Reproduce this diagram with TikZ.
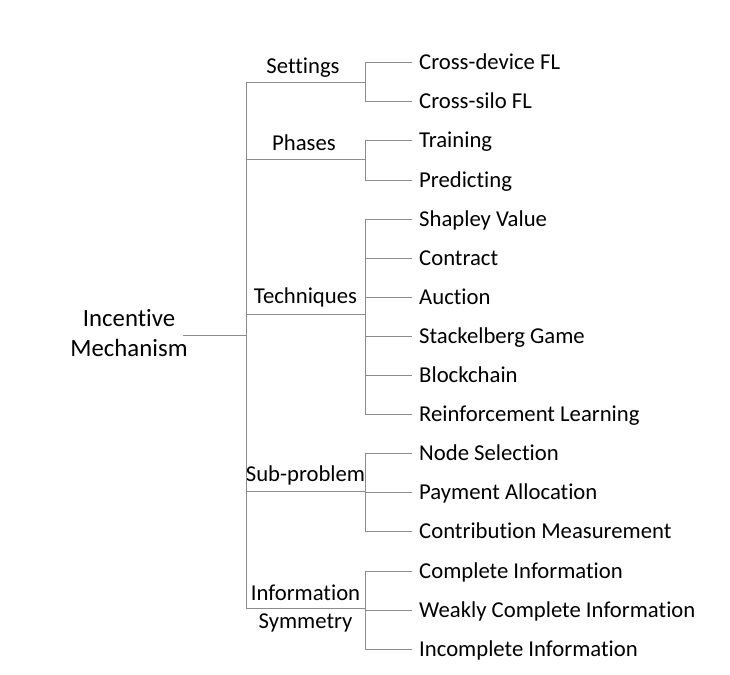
\documentclass[tikz,border=0pt]{standalone}
\usepackage{fontspec}
\setmainfont{Carlito}[Ligatures={NoCommon}]
\begin{document}
\begin{tikzpicture}[x=1pt,y=-1pt,
  conn/.style={draw=black!45, line width=1pt},
  leaf/.style={anchor=west, inner xsep=7pt, inner ysep=0pt, text height=16pt, text depth=2pt, font=\fontsize{22.7}{27}\selectfont},
  cat/.style={anchor=base, inner sep=0pt, font=\fontsize{22.7}{28}\selectfont, align=center},
  rootnode/.style={anchor=base, align=center, inner sep=0pt, font=\fontsize{24.8}{30}\selectfont}]
\useasboundingbox (0,0) rectangle (730,674);

% root (base anchor = baseline of the last line)
\node[rootnode] (root) at (129,356.7) {Incentive\\Mechanism};
\coordinate (rootR) at (183,335.7);
\coordinate (trunkM) at (246,335.7);

% categories: left and right ends of their lines
\coordinate (c1L) at (246,82.7);  \coordinate (c1R) at (365.5,82.7);
\coordinate (c2L) at (246,159.5); \coordinate (c2R) at (365.5,159.5);
\coordinate (c3L) at (246,314.3); \coordinate (c3R) at (365.5,314.3);
\coordinate (c4L) at (246,491.7); \coordinate (c4R) at (365.5,491.7);
\coordinate (c5L) at (246,608.3); \coordinate (c5R) at (365.5,608.3);

\node[cat] (settings) at (303,73.3) {Settings};
\node[cat] (phases) at (304,150) {Phases};
\node[cat] (techniques) at (305.5,303.3) {Techniques};
\node[cat] (subproblem) at (305.5,481.7) {Sub-problem};
\node[cat] (infosym) at (305.5,628.7) {Information\\Symmetry};

% leaves
\node[leaf] (l1) at (412,62.7) {Cross-device FL};
\node[leaf] (l2) at (412,101.8) {Cross-silo FL};
\node[leaf] (l3) at (412,140.9) {Training};
\node[leaf] (l4) at (412,180.0) {Predicting};
\node[leaf] (l5) at (412,219.1) {Shapley Value};
\node[leaf] (l6) at (412,258.2) {Contract};
\node[leaf] (l7) at (412,297.3) {Auction};
\node[leaf] (l8) at (412,336.4) {Stackelberg Game};
\node[leaf] (l9) at (412,375.5) {Blockchain};
\node[leaf] (l10) at (412,414.6) {Reinforcement Learning};
\node[leaf] (l11) at (412,453.7) {Node Selection};
\node[leaf] (l12) at (412,492.8) {Payment Allocation};
\node[leaf] (l13) at (412,531.9) {Contribution Measurement};
\node[leaf] (l14) at (412,571.0) {Complete Information};
\node[leaf] (l15) at (412,610.1) {Weakly Complete Information};
\node[leaf] (l16) at (412,649.2) {Incomplete Information};

% connectors
\draw[conn] (rootR) -- (trunkM);
\draw[conn] (c1L) -- (c5L);
\foreach \c in {1,...,5} { \draw[conn] (c\c L) -- (c\c R); }

\draw[conn] (l1.west) -- (l1.west -| c1R) |- (l2.west);
\draw[conn] (l3.west) -- (l3.west -| c2R) |- (l4.west);
\draw[conn] (l5.west) -- (l5.west -| c3R) |- (l10.west);
\foreach \i in {6,...,9} { \draw[conn] (l\i.west) -- (l\i.west -| c3R); }
\draw[conn] (l11.west) -- (l11.west -| c4R) |- (l13.west);
\draw[conn] (l12.west) -- (l12.west -| c4R);
\draw[conn] (l14.west) -- (l14.west -| c5R) |- (l16.west);
\draw[conn] (l15.west) -- (l15.west -| c5R);
\end{tikzpicture}
\end{document}
